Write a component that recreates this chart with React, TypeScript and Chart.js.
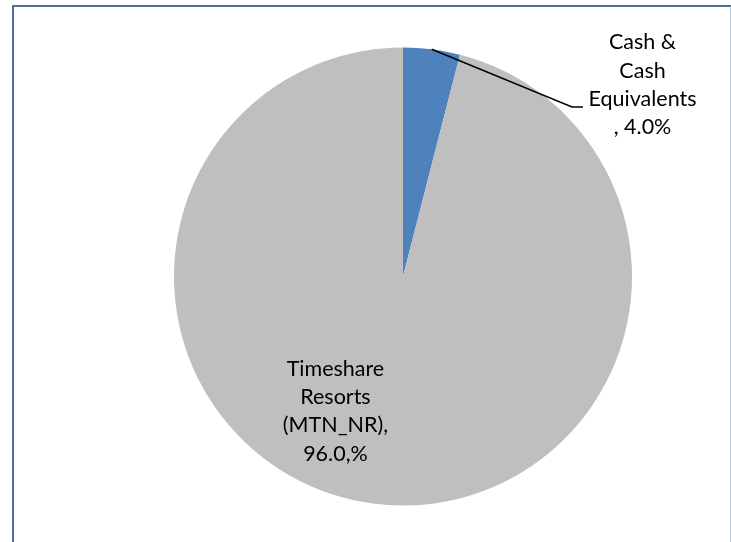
import React, { useEffect, useRef } from "react";
import { Chart, registerables } from "chart.js";

Chart.register(...registerables);

const categories = ["Cash & Cash Equivalents", "Timeshare Resorts (MTN_NR)"];
const values = [4.0, 96.0];
const colors = ["#4f81bd", "#bfbfbf"];
const labelLines = [
  ["Cash &", "Cash", "Equivalents", ", 4.0%"],
  ["Timeshare", "Resorts", "(MTN_NR),", "96.0,%"],
];

const labelPlugin = {
  id: "pieLabels",
  afterDatasetsDraw(chart: any) {
    const ctx = chart.ctx;
    const meta = chart.getDatasetMeta(0);
    const arc0 = meta.data[0];
    const cx = arc0.x;
    const cy = arc0.y;
    const r = arc0.outerRadius;
    ctx.save();
    ctx.font = "21.5px Lato";
    ctx.fillStyle = "#000";
    ctx.textAlign = "center";
    ctx.textBaseline = "middle";
    const lh = 28.3;

    // leader line for small slice
    const mid = (arc0.startAngle + arc0.endAngle) / 2;
    const sx = cx + Math.cos(mid) * r;
    const sy = cy + Math.sin(mid) * r;
    const ex = cx + r * 0.738;
    const ey = cy - r * 0.74;
    ctx.strokeStyle = "#000";
    ctx.lineWidth = 1.5;
    ctx.beginPath();
    ctx.moveTo(sx, sy);
    ctx.lineTo(ex, ey);
    ctx.lineTo(ex + 11, ey);
    ctx.stroke();

    const l0 = labelLines[0];
    const t0x = cx + r * 1.046;
    const t0y = cy - r * 1.022;
    l0.forEach((s, i) => ctx.fillText(s, t0x, t0y + i * lh));

    const l1 = labelLines[1];
    const t1x = cx - r * 0.295;
    const t1y = cy + r * 0.403;
    l1.forEach((s, i) => ctx.fillText(s, t1x, t1y + i * lh));
    ctx.restore();
  },
};

export default function App() {
  const ref = useRef<HTMLCanvasElement>(null);
  useEffect(() => {
    document.body.style.margin = "0";
    const chart = new Chart(ref.current!, {
      type: "pie",
      data: {
        labels: categories,
        datasets: [
          {
            data: values,
            backgroundColor: colors,
            borderWidth: 0,
          },
        ],
      },
      options: {
        animation: false,
        responsive: true,
        maintainAspectRatio: false,
        layout: { padding: { left: 174, right: 99, top: 47, bottom: 36 } },
        plugins: {
          legend: { display: false },
          tooltip: { enabled: false },
        },
      },
      plugins: [labelPlugin],
    });
    return () => chart.destroy();
  }, []);
  return (
    <div style={{ position: "relative", width: 731, height: 542, overflow: "hidden", background: "#fff" }}>
      <div
        style={{
          position: "absolute",
          left: 12,
          top: 5,
          width: 716,
          height: 600,
          borderLeft: "2px solid #4a6e9e",
          borderTop: "2px solid #4a6e9e",
          borderRight: "2px solid #b8c6d9",
        }}
      />
      <canvas ref={ref} style={{ position: "absolute", left: 0, top: 0, width: 731, height: 542 }} />
    </div>
  );
}
